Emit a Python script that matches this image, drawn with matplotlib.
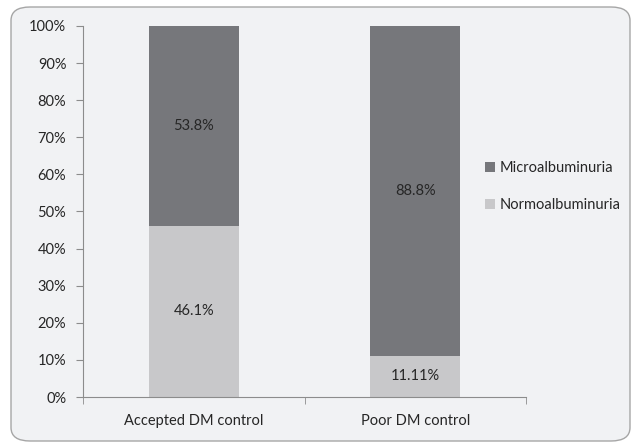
import matplotlib.pyplot as plt
from matplotlib.patches import FancyBboxPatch
from matplotlib.ticker import FuncFormatter, MultipleLocator
import numpy as np

plt.rcParams['font.family'] = ['Lato', 'DejaVu Sans']

categories = ["Accepted DM control", "Poor DM control"]
normo = [46.1, 11.11]
micro = [53.8, 88.8]
normo_labels = ["46.1%", "11.11%"]
micro_labels = ["53.8%", "88.8%"]

bg = "#F1F2F4"
dark = "#76777B"
light = "#C8C8CA"
text_c = "#262626"
axis_c = "#8C8C8C"
fs = 10.5

fig = plt.figure(figsize=(6.37, 4.48), dpi=100)
fig.patch.set_facecolor("white")
frame = FancyBboxPatch((11 / 637, 7 / 448), 619 / 637, 434 / 448,
                       boxstyle="round,pad=0,rounding_size=0.03",
                       transform=fig.transFigure, facecolor=bg,
                       edgecolor="#A6A6A6", linewidth=1.0, zorder=-5)
fig.patches.append(frame)

ax = fig.add_axes([83 / 637, (448 - 397) / 448, 443 / 637, 371 / 448])
ax.set_facecolor("none")
ax.set_zorder(2)

# 100% stacked: normalise each column to its total
tot = np.array(normo) + np.array(micro)
normo_pct = np.array(normo) / tot * 100
micro_pct = np.array(micro) / tot * 100

x = np.arange(len(categories))
w = 0.405
ax.bar(x, normo_pct, width=w, color=light, label="Normoalbuminuria", zorder=2)
ax.bar(x, micro_pct, width=w, bottom=normo_pct, color=dark,
       label="Microalbuminuria", zorder=2)

for i in range(len(categories)):
    ax.text(x[i], normo_pct[i] / 2, normo_labels[i], ha="center", va="center",
            fontsize=fs, color=text_c, zorder=3)
    ax.text(x[i], normo_pct[i] + micro_pct[i] / 2, micro_labels[i],
            ha="center", va="center", fontsize=fs, color=text_c, zorder=3)

ax.set_xlim(-0.5, len(categories) - 0.5)
ax.set_ylim(0, 100)
ax.yaxis.set_major_locator(MultipleLocator(10))
ax.yaxis.set_major_formatter(FuncFormatter(lambda v, p: f"{v:.0f}%"))
ax.set_xticks(x)
ax.set_xticklabels(categories)
ax.set_xticks([-0.5, 0.5, 1.5], minor=True)
ax.tick_params(axis="x", which="major", length=0, pad=12, labelsize=fs,
               labelcolor=text_c)
ax.tick_params(axis="x", which="minor", length=5, color=axis_c, direction="out")
ax.tick_params(axis="y", length=5, color=axis_c, labelsize=fs,
               labelcolor=text_c, pad=7)
for s in ["top", "right"]:
    ax.spines[s].set_visible(False)
for s in ["left", "bottom"]:
    ax.spines[s].set_color(axis_c)

handles, labels = ax.get_legend_handles_labels()
leg = fig.legend(handles[::-1], labels[::-1], loc="upper left",
                 bbox_to_anchor=(472 / 637, (448 - 148) / 448),
                 frameon=False, fontsize=fs, handlelength=0.7,
                 handleheight=0.7, handletextpad=0.3, labelspacing=1.6,
                 labelcolor=text_c)

fig.savefig("out.png", dpi=100, facecolor=fig.get_facecolor())
